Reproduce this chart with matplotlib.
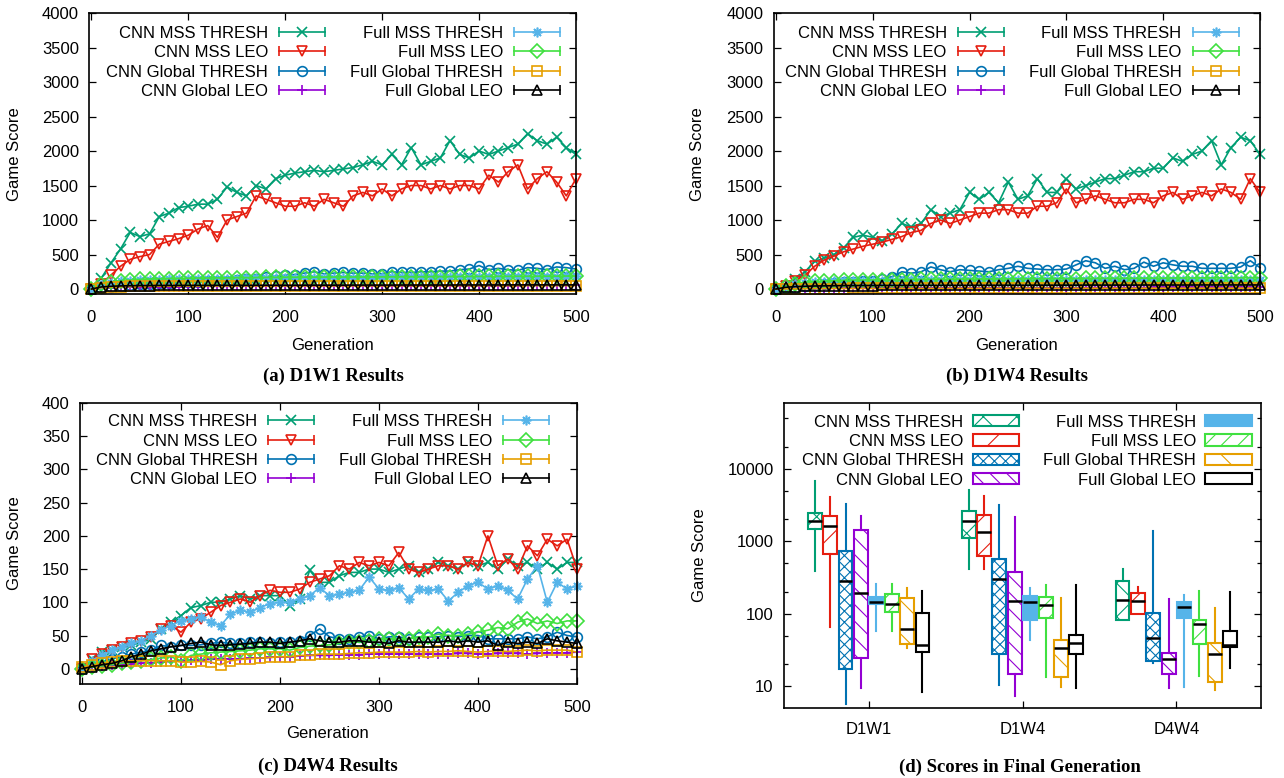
import matplotlib
matplotlib.use("Agg")
import matplotlib.pyplot as plt
from matplotlib.lines import Line2D
from matplotlib.patches import Patch
from matplotlib.legend_handler import HandlerLine2D, HandlerTuple
from matplotlib.ticker import FixedLocator, FuncFormatter, NullFormatter, MultipleLocator

plt.rcParams["font.family"] = ["Liberation Sans", "DejaVu Sans"]
plt.rcParams["font.size"] = 12
plt.rcParams["hatch.linewidth"] = 0.8

W, H = 1284, 778

# ──────────────────────────────────────────────
# series (same order in every panel)
SERIES = ["CNN MSS THRESH", "CNN MSS LEO", "CNN Global THRESH", "CNN Global LEO",
          "Full MSS THRESH", "Full MSS LEO", "Full Global THRESH", "Full Global LEO"]
COLORS = ["#009e73", "#e51e10", "#0072b2", "#9400d3",
          "#56b4e9", "#40e040", "#e69f00", "#000000"]
MARKERS = ["x", "v", "o", "+", (8, 2, 0), "D", "s", "^"]
HATCHES = ["x", "/", "xxx", "\\\\", None, "//", "\\", None]

GENERATIONS = list(range(0, 501, 10))

# ── (a) D1W1 ──
a_cnn_mss_thresh = [0, 155, 375, 580, 820, 760, 800, 1050, 1100, 1180,
                    1200, 1230, 1230, 1300, 1480, 1400, 1350, 1500, 1450, 1600,
                    1650, 1680, 1700, 1720, 1700, 1720, 1740, 1760, 1800, 1850,
                    1800, 1950, 1800, 2050, 1800, 1850, 1900, 2150, 1950, 1900,
                    2000, 1950, 2000, 2050, 2100, 2250, 2150, 2100, 2200, 2050,
                    1950]
a_cnn_mss_leo = [0, 80, 200, 330, 430, 470, 500, 650, 690, 730,
                 780, 870, 920, 750, 1000, 1050, 1100, 1350, 1300, 1250,
                 1200, 1200, 1250, 1200, 1300, 1250, 1200, 1350, 1400, 1350,
                 1450, 1350, 1450, 1500, 1500, 1450, 1500, 1450, 1500, 1500,
                 1450, 1650, 1550, 1700, 1800, 1450, 1600, 1700, 1550, 1350,
                 1600]
a_cnn_global_thresh = [0, 20, 35, 50, 60, 70, 80, 85, 90, 95,
                       100, 105, 110, 115, 120, 130, 140, 150, 170, 190,
                       200, 210, 230, 250, 220, 230, 240, 230, 230, 220,
                       220, 250, 240, 240, 250, 250, 260, 260, 280, 290,
                       340, 280, 300, 280, 270, 310, 300, 280, 320, 310,
                       290]
a_cnn_global_leo = [0, 10, 18, 24, 28, 30, 32, 34, 35, 36,
                    38, 38, 40, 40, 40, 42, 42, 42, 44, 44,
                    44, 45, 45, 45, 46, 46, 46, 47, 47, 47,
                    48, 48, 48, 48, 49, 49, 49, 50, 50, 50,
                    50, 50, 51, 51, 51, 52, 52, 52, 52, 53,
                    53]
a_full_mss_thresh = [0, 60, 90, 110, 120, 125, 130, 135, 140, 140,
                     145, 148, 150, 150, 152, 152, 155, 155, 158, 158,
                     160, 160, 162, 162, 163, 163, 165, 165, 166, 166,
                     168, 168, 170, 170, 170, 172, 172, 172, 174, 174,
                     175, 176, 176, 177, 178, 178, 180, 180, 180, 182,
                     182]
a_full_mss_leo = [0, 70, 100, 120, 130, 140, 145, 150, 152, 155,
                  158, 160, 160, 162, 162, 165, 165, 166, 168, 168,
                  170, 170, 172, 172, 173, 174, 174, 175, 175, 176,
                  176, 177, 178, 178, 178, 180, 180, 180, 182, 182,
                  182, 183, 184, 184, 185, 185, 186, 186, 187, 188,
                  188]
a_full_global_thresh = [0, 20, 30, 35, 38, 40, 40, 42, 42, 42,
                        43, 43, 43, 44, 44, 44, 45, 45, 45, 45,
                        45, 46, 46, 46, 46, 46, 47, 47, 47, 47,
                        47, 48, 48, 48, 48, 48, 48, 49, 49, 49,
                        49, 49, 49, 50, 50, 50, 50, 50, 50, 50,
                        50]
a_full_global_leo = [0, 30, 40, 45, 48, 50, 50, 52, 52, 52,
                     53, 53, 53, 54, 54, 54, 54, 55, 55, 55,
                     55, 55, 56, 56, 56, 56, 56, 57, 57, 57,
                     57, 57, 58, 58, 58, 58, 58, 58, 59, 59,
                     59, 59, 59, 60, 60, 60, 60, 60, 60, 60,
                     60]

# ── (b) D1W4 ──
b_cnn_mss_thresh = [0, 50, 150, 250, 400, 450, 500, 600, 750, 780,
                    750, 700, 800, 950, 900, 950, 1150, 1050, 1100, 1150,
                    1400, 1300, 1400, 1250, 1550, 1300, 1350, 1600, 1400, 1400,
                    1600, 1450, 1500, 1550, 1600, 1600, 1650, 1700, 1700, 1750,
                    1750, 1900, 1850, 1950, 2000, 2150, 1800, 2050, 2200, 2150,
                    1950]
b_cnn_mss_leo = [0, 50, 120, 200, 330, 420, 480, 540, 580, 620,
                 650, 680, 720, 760, 820, 850, 950, 1000, 950, 1000,
                 1050, 1100, 1100, 1150, 1150, 1100, 1100, 1200, 1200, 1250,
                 1450, 1250, 1300, 1350, 1300, 1250, 1250, 1300, 1300, 1250,
                 1350, 1400, 1300, 1350, 1400, 1350, 1450, 1400, 1300, 1600,
                 1400]
b_cnn_global_thresh = [0, 10, 20, 40, 60, 80, 90, 100, 100, 110,
                       120, 150, 180, 250, 230, 250, 320, 280, 250, 280,
                       270, 260, 250, 280, 300, 330, 300, 290, 280, 280,
                       290, 350, 410, 380, 300, 330, 280, 300, 390, 330,
                       380, 350, 330, 330, 300, 300, 300, 300, 320, 410,
                       310]
b_cnn_global_leo = [0, 5, 8, 10, 12, 13, 14, 15, 15, 16,
                    16, 17, 17, 17, 18, 18, 18, 18, 19, 19,
                    19, 19, 20, 20, 20, 20, 20, 21, 21, 21,
                    21, 21, 21, 22, 22, 22, 22, 22, 22, 23,
                    23, 23, 23, 23, 23, 24, 24, 24, 24, 24,
                    24]
b_full_mss_thresh = [0, 40, 70, 90, 100, 105, 110, 112, 115, 118,
                     120, 120, 122, 122, 124, 124, 125, 125, 126, 126,
                     127, 127, 128, 128, 128, 129, 129, 130, 130, 130,
                     131, 131, 132, 132, 132, 133, 133, 134, 134, 134,
                     135, 135, 136, 136, 136, 137, 137, 138, 138, 138,
                     138]
b_full_mss_leo = [0, 50, 80, 100, 110, 115, 120, 125, 128, 130,
                  132, 134, 135, 136, 138, 140, 140, 142, 142, 144,
                  145, 145, 146, 146, 148, 148, 150, 150, 150, 152,
                  152, 152, 154, 154, 155, 155, 156, 156, 158, 158,
                  158, 160, 160, 160, 162, 162, 162, 164, 164, 165,
                  165]
b_full_global_thresh = [0, 2, 4, 5, 6, 6, 7, 7, 8, 8,
                        8, 8, 9, 9, 9, 9, 9, 10, 10, 10,
                        10, 10, 10, 10, 11, 11, 11, 11, 11, 11,
                        11, 11, 12, 12, 12, 12, 12, 12, 12, 12,
                        12, 12, 12, 13, 13, 13, 13, 13, 13, 13,
                        13]
b_full_global_leo = [0, 25, 35, 40, 44, 46, 48, 50, 50, 51,
                     51, 52, 52, 52, 53, 53, 53, 53, 54, 54,
                     54, 54, 55, 55, 55, 55, 55, 56, 56, 56,
                     56, 56, 57, 57, 57, 57, 57, 57, 58, 58,
                     58, 58, 58, 58, 59, 59, 59, 59, 59, 59,
                     59]

# ── (c) D4W4 ──
c_cnn_mss_thresh = [0, 15, 25, 28, 32, 35, 40, 45, 60, 70,
                    80, 92, 95, 100, 100, 105, 110, 105, 110, 110,
                    110, 95, 105, 148, 130, 130, 140, 145, 145, 150,
                    150, 145, 150, 155, 145, 150, 160, 155, 150, 160,
                    155, 160, 150, 165, 155, 160, 150, 160, 150, 160,
                    160]
c_cnn_mss_leo = [0, 15, 22, 28, 32, 38, 42, 48, 60, 65,
                 55, 70, 75, 85, 95, 100, 105, 100, 110, 118,
                 115, 115, 120, 130, 135, 140, 155, 150, 160, 155,
                 160, 155, 175, 150, 145, 150, 155, 155, 150, 160,
                 155, 200, 155, 165, 150, 185, 170, 195, 185, 195,
                 150]
c_cnn_global_thresh = [0, 5, 10, 15, 18, 22, 25, 28, 35, 33,
                       35, 35, 36, 38, 40, 38, 38, 40, 40, 38,
                       40, 40, 42, 50, 60, 48, 45, 45, 48, 50,
                       45, 48, 48, 45, 48, 48, 48, 50, 48, 50,
                       50, 45, 45, 45, 45, 48, 45, 48, 55, 50,
                       48]
c_cnn_global_leo = [0, 2, 4, 5, 6, 7, 8, 9, 10, 11,
                    12, 13, 13, 14, 15, 15, 15, 16, 16, 17,
                    18, 18, 19, 20, 20, 20, 21, 21, 21, 22,
                    22, 22, 22, 22, 22, 22, 22, 22, 23, 23,
                    22, 22, 23, 23, 23, 22, 23, 24, 24, 24,
                    25]
c_full_mss_thresh = [0, 12, 20, 28, 32, 38, 42, 50, 58, 65,
                     72, 75, 78, 70, 65, 82, 88, 85, 92, 98,
                     100, 100, 105, 110, 122, 110, 112, 115, 118, 138,
                     120, 118, 122, 105, 120, 118, 120, 102, 115, 125,
                     130, 120, 125, 118, 105, 135, 155, 100, 130, 120,
                     125]
c_full_mss_leo = [0, 2, 4, 6, 8, 10, 12, 14, 16, 18,
                  12, 20, 22, 24, 25, 26, 27, 28, 30, 30,
                  30, 28, 32, 34, 35, 36, 38, 40, 40, 42,
                  45, 45, 45, 45, 48, 48, 52, 50, 50, 52,
                  55, 58, 62, 60, 70, 75, 68, 72, 68, 72,
                  72]
c_full_global_thresh = [2, 5, 8, 10, 11, 12, 12, 12, 12, 12,
                        10, 10, 11, 10, 6, 12, 14, 15, 16, 17,
                        18, 18, 20, 20, 22, 22, 22, 23, 24, 24,
                        25, 25, 25, 25, 26, 25, 26, 26, 27, 26,
                        25, 26, 27, 26, 27, 28, 27, 28, 28, 28,
                        25]
c_full_global_leo = [0, 3, 6, 8, 12, 18, 22, 27, 30, 33,
                     35, 38, 40, 36, 35, 36, 37, 38, 40, 40,
                     38, 40, 42, 45, 42, 40, 40, 42, 42, 40,
                     40, 38, 42, 40, 40, 40, 40, 42, 40, 42,
                     40, 42, 35, 40, 38, 40, 38, 45, 42, 40,
                     38]

# ── (d) final generation, one row per series, columns D1W1 / D1W4 / D4W4 ──
ENVS = ["D1W1", "D1W4", "D4W4"]
box_whishi = [[6760, 5070, 421], [4100, 4240, 235], [3220, 3120, 1393], [2245, 2197, 160],
              [261, 228, 182], [255, 253, 207], [228, 167, 119], [207, 248, 200]]
box_q3 = [[2470, 2630, 287], [2245, 2317, 194], [730, 572, 103], [1422, 374, 29],
          [171, 177, 147], [188, 169, 83], [166, 43, 40], [103, 51, 57]]
box_med = [[1935, 1935, 157], [1633, 1364, 149], [284, 306, 46.5], [194, 152, 24],
           [147, 146, 124], [137, 131, 72], [61, 34, 27.6], [37.6, 39.6, 36.8]]
box_q1 = [[1485, 1115, 83], [664, 630, 99.5], [17.3, 27.4, 22.4], [24.6, 14.5, 14.6],
          [137, 81.5, 86], [106, 86.7, 38.4], [38, 13.6, 11.5], [29.8, 27.6, 34.5]]
box_whislo = [[387, 421, 83], [66, 412, 99.5], [5.6, 10.3, 21], [9.3, 7.3, 9.3],
              [58, 43, 9.8], [58, 13.2, 13.7], [34, 9.8, 8.8], [8.3, 9.4, 17.9]]


# ──────────────────────────────────────────────
def px_axes(fig, left, right, top, bottom):
    return fig.add_axes([left / W, 1 - bottom / H, (right - left) / W, (bottom - top) / H])


def fig_text(fig, x, y, s, **kw):
    fig.text(x / W, 1 - y / H, s, ha="center", va="center", **kw)


def style_axes(ax):
    for sp in ax.spines.values():
        sp.set_linewidth(1.2)
    ax.tick_params(which="both", direction="in", top=True, right=True,
                   width=0.9, labelsize=12)
    ax.tick_params(which="major", length=5)
    ax.tick_params(which="minor", length=3)
    ax.tick_params(axis="y", pad=7.5)


def curve_legend(ax, anchor):
    # gnuplot-style key: label on the left, line + errorbar caps + point on the right
    handles, hmap = [], {}
    for c, m in zip(COLORS, MARKERS):
        body = Line2D([], [], color=c, lw=1.2, marker=m, ms=7, mfc="none", mew=1.2)
        caps = Line2D([], [], color=c, ls="none", marker="|", ms=7, mew=1.2)
        hmap[body] = HandlerLine2D(numpoints=1)
        hmap[caps] = HandlerLine2D(numpoints=2, marker_pad=0)
        handles.append((body, caps))
    hmap[tuple] = HandlerTuple(ndivide=1)
    ax.legend(handles, SERIES, handler_map=hmap, ncols=2, markerfirst=False,
              loc="upper right", bbox_to_anchor=anchor, frameon=False,
              borderpad=0, borderaxespad=0, handlelength=2.76, handletextpad=0.66,
              columnspacing=1.5, labelspacing=0.26, fontsize=12)


def curve_panel(fig, box, curves, ymax, ybottom, ystep, anchor):
    ax = px_axes(fig, *box)
    for vals, c, m in zip(curves, COLORS, MARKERS):
        ax.plot(GENERATIONS, vals, color=c, lw=1.2, marker=m, ms=7, mfc="none",
                mew=1.2, clip_on=False)
    ax.set_xlim(-2, 500)
    ax.set_ylim(ybottom, ymax)
    ax.xaxis.set_major_locator(MultipleLocator(100))
    ax.yaxis.set_major_locator(MultipleLocator(ystep))
    style_axes(ax)
    ax.tick_params(axis="x", pad=11.5)
    curve_legend(ax, anchor)
    return ax


fig = plt.figure(figsize=(W / 100, H / 100), dpi=100)

curve_panel(fig, (89.5, 576, 13, 294),
            [a_cnn_mss_thresh, a_cnn_mss_leo, a_cnn_global_thresh, a_cnn_global_leo,
             a_full_mss_thresh, a_full_mss_leo, a_full_global_thresh, a_full_global_leo],
            4000, -72, 500, (0.967, 0.954))
curve_panel(fig, (774, 1260, 13, 294),
            [b_cnn_mss_thresh, b_cnn_mss_leo, b_cnn_global_thresh, b_cnn_global_leo,
             b_full_mss_thresh, b_full_mss_leo, b_full_global_thresh, b_full_global_leo],
            4000, -72, 500, (0.956, 0.954))
curve_panel(fig, (80, 577, 403, 684),
            [c_cnn_mss_thresh, c_cnn_mss_leo, c_cnn_global_thresh, c_cnn_global_leo,
             c_full_mss_thresh, c_full_mss_leo, c_full_global_thresh, c_full_global_leo],
            400, -23, 50, (0.944, 0.960))

# ── (d) box plots ──
axd = px_axes(fig, 784, 1261, 403, 708)
cat_pos = [1, 2, 3]
for i, c in enumerate(COLORS):
    stats = [dict(whislo=box_whislo[i][j], q1=box_q1[i][j], med=box_med[i][j],
                  q3=box_q3[i][j], whishi=box_whishi[i][j], fliers=[])
             for j in range(len(ENVS))]
    face = c if i == 4 else "white"
    axd.bxp(stats, positions=[p + (i - 3.5) * 0.1 for p in cat_pos], widths=0.09,
            patch_artist=True, showcaps=False, showfliers=False, manage_ticks=False,
            boxprops=dict(facecolor=face, edgecolor=c, hatch=HATCHES[i], lw=1.5),
            whiskerprops=dict(color=c, lw=1.5),
            medianprops=dict(color="black", lw=1.8))
axd.set_yscale("log")
axd.set_ylim(5, 81000)
axd.set_xlim(0.45, 3.55)
axd.set_xticks(cat_pos, ENVS)
axd.yaxis.set_major_locator(FixedLocator([10, 100, 1000, 10000]))
axd.yaxis.set_major_formatter(FuncFormatter(lambda v, _: f"{v:g}"))
axd.yaxis.set_minor_locator(FixedLocator([20, 50, 200, 500, 2000, 5000, 20000, 50000]))
axd.yaxis.set_minor_formatter(NullFormatter())
style_axes(axd)
axd.tick_params(axis="x", pad=10)

box_handles = []
for i, c in enumerate(COLORS):
    face = c if i == 4 else "white"
    box_handles.append(Patch(facecolor=face, edgecolor=c, hatch=HATCHES[i], lw=1.5))
axd.legend(box_handles, SERIES, ncols=2, markerfirst=False, loc="upper right",
           bbox_to_anchor=(0.981, 0.962), frameon=False, borderpad=0, borderaxespad=0,
           handlelength=2.8, handleheight=0.66, handletextpad=0.55,
           columnspacing=1.45, labelspacing=0.26, fontsize=12)

# axis titles and captions
for x, y in [(15, 154), (697, 154), (15, 543), (699, 555)]:
    fig_text(fig, x, y, "Game Score", rotation=90, fontsize=12)
for x, y in [(333, 345), (1017, 345), (328, 734)]:
    fig_text(fig, x, y, "Generation", fontsize=12)
caption_font = dict(family=["Liberation Serif", "DejaVu Serif"], weight="bold", fontsize=13.5)
fig_text(fig, 333, 376, "(a) D1W1 Results", **caption_font)
fig_text(fig, 1017, 376, "(b) D1W4 Results", **caption_font)
fig_text(fig, 328, 766, "(c) D4W4 Results", **caption_font)
fig_text(fig, 1020, 767, "(d) Scores in Final Generation", **caption_font)

fig.savefig("out.png", dpi=100)
plt.close(fig)
